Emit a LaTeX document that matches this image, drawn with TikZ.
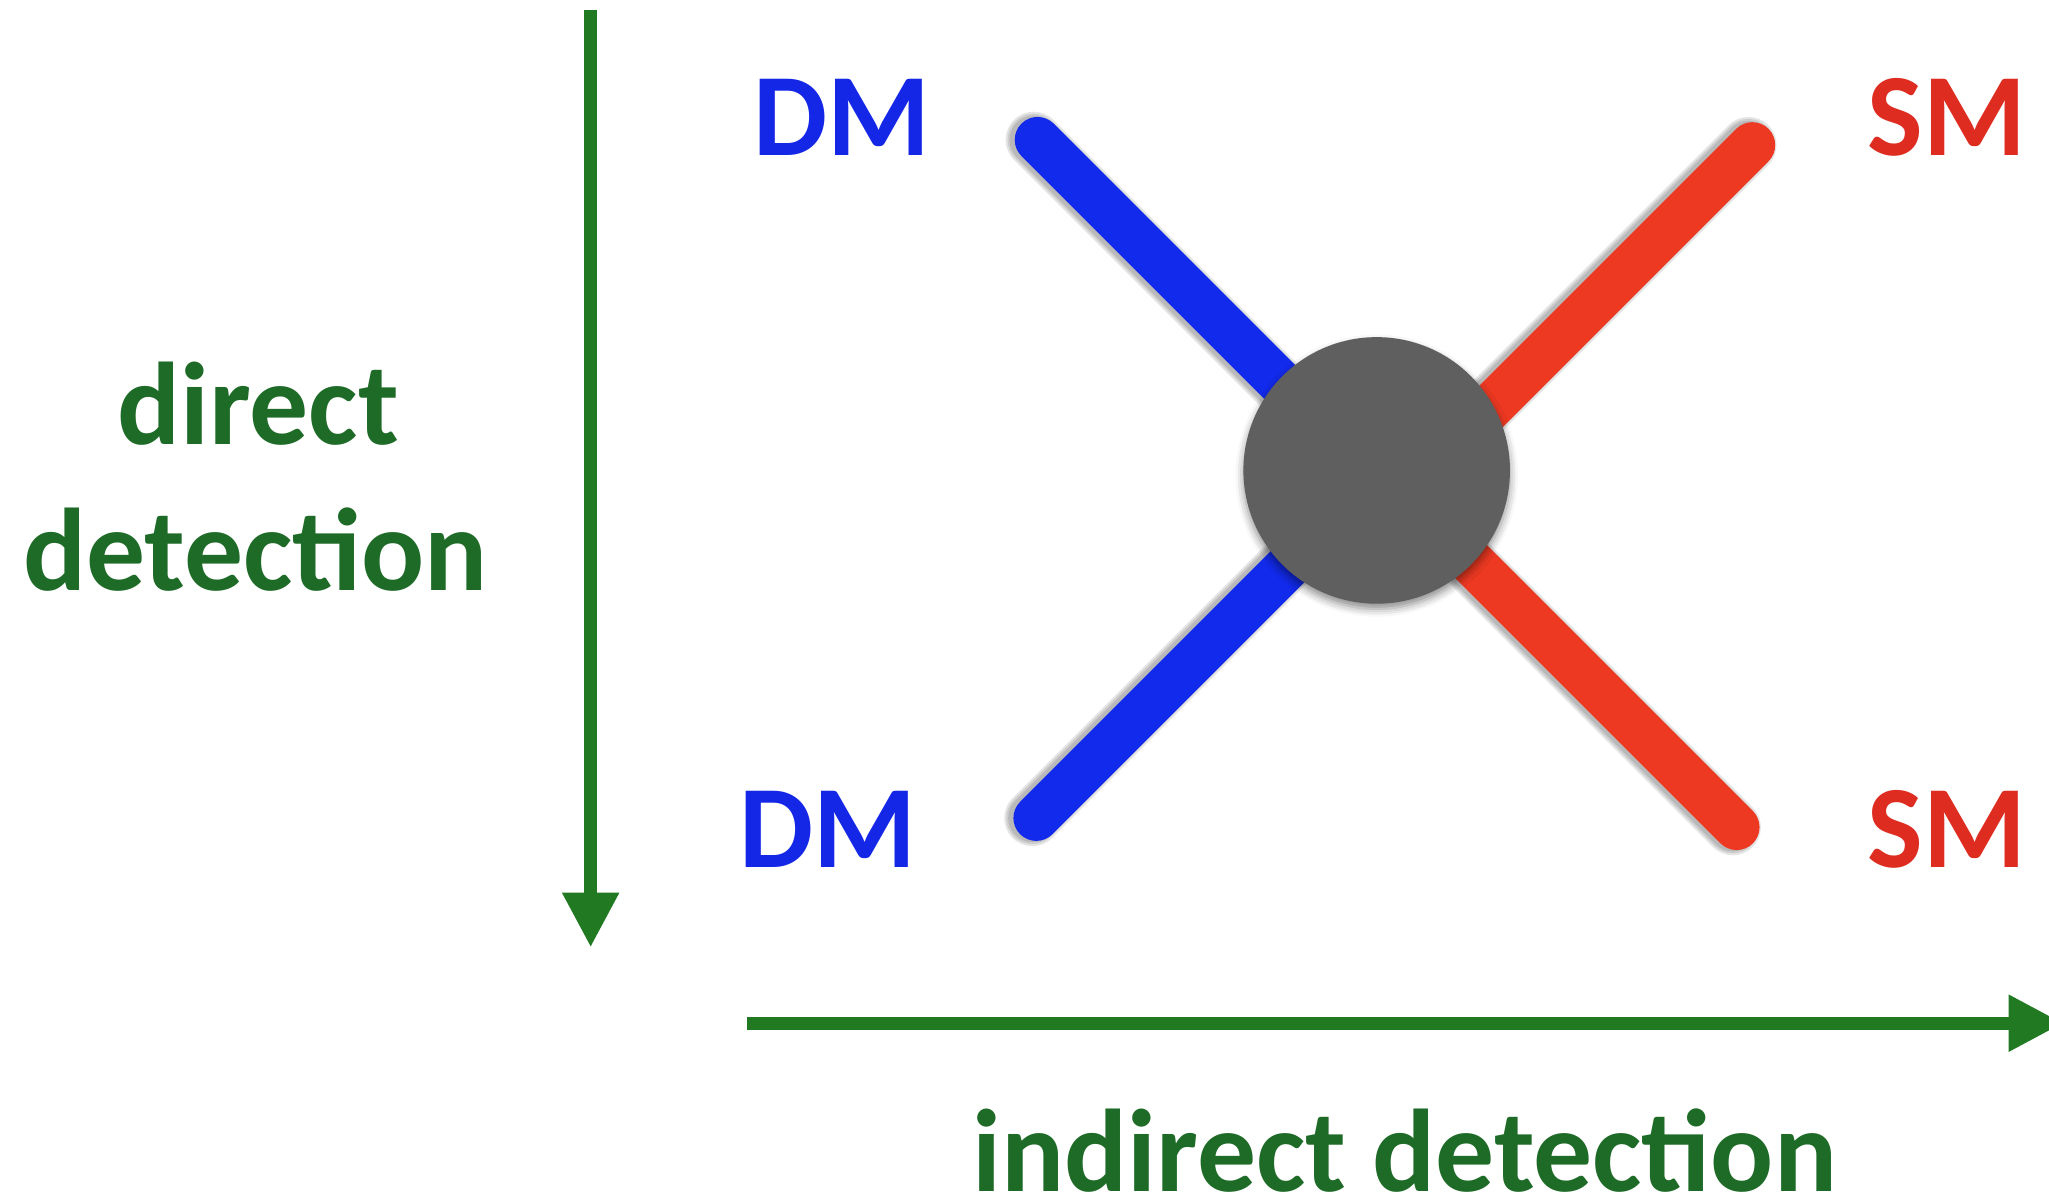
\documentclass[tikz,border=0pt]{standalone}
\usepackage{fontspec}
\setmainfont{Carlito}
\usetikzlibrary{arrows.meta,shadows.blur}

\definecolor{dmblue}{RGB}{18,42,235}
\definecolor{dmtext}{RGB}{20,38,230}
\definecolor{smred}{RGB}{238,57,34}
\definecolor{smtext}{RGB}{222,44,32}
\definecolor{axisgreen}{RGB}{33,122,34}
\definecolor{labelgreen}{RGB}{30,107,40}
\definecolor{blobgray}{RGB}{95,95,95}

\tikzset{
  leg/.style={line width=35pt, line cap=round},
  legshadow/.style={line width=#1, line cap=round, black, opacity=0.10,
                    transform canvas={xshift=-3pt}},
  axis/.style={draw=axisgreen, line width=10pt,
               -{Triangle[width=41pt,length=42pt]}, fill=axisgreen},
  particle/.style={font=\fontsize{90}{100}\selectfont\bfseries, inner sep=0pt, anchor=base},
  channel/.style={font=\fontsize{90}{100}\selectfont\bfseries, text=labelgreen, inner sep=0pt, anchor=base},
  vertex/.style={circle, fill=blobgray, minimum size=204pt, inner sep=0pt,
                 blur shadow={shadow xshift=0pt, shadow yshift=-4pt,
                              shadow blur radius=6pt, shadow opacity=45}},
}

\begin{document}
\begin{tikzpicture}[x=1pt, y=-1pt]
  \useasboundingbox (0,0) rectangle (1568,920);

  % outer ends of the four legs
  \coordinate (tl) at (794,107);
  \coordinate (tr) at (1341,111);
  \coordinate (bl) at (793,626);
  \coordinate (br) at (1329,633);
  % inner ends, hidden under the vertex
  \coordinate (tlin) at (1053,366);
  \coordinate (trin) at (1073,379);
  \coordinate (blin) at (1053,366);
  \coordinate (brin) at (1053,357);

  % soft shadows under the legs
  \foreach \w in {37pt,40pt,43pt} {
    \draw[legshadow=\w] (tl) -- (tlin);
    \draw[legshadow=\w] (tr) -- (trin);
    \draw[legshadow=\w] (bl) -- (blin);
    \draw[legshadow=\w] (br) -- (brin);
  }

  % the four legs
  \draw[leg, dmblue] (tl) -- (tlin);
  \draw[leg, dmblue] (bl) -- (blin);
  \draw[leg, smred] (tr) -- (trin);
  \draw[leg, smred] (br) -- (brin);

  % interaction vertex
  \node[vertex] (blob) at (1053.5,360) {};

  % particle labels
  \node[particle, text=dmtext] (dmin)  at (644,119) {DM};
  \node[particle, text=dmtext] (dmout) at (633.5,664) {DM};
  \node[particle, text=smtext] (smin)  at (1490,119) {SM};
  \node[particle, text=smtext] (smout) at (1490,664) {SM};

  % detection axes
  \coordinate (vtop) at (452,8);
  \coordinate (vend) at (452,725);
  \coordinate (hstart) at (572,783);
  \coordinate (hend) at (1579,783);
  \draw[axis] (vtop) -- (vend);
  \draw[axis] (hstart) -- (hend);

  % axis labels
  \node[channel] (dd1) at (197.5,340) {direct};
  \node[channel] (dd2) at (195.5,452) {detection};
  \node[channel] (ind) at (1075,912) {indirect detection};
\end{tikzpicture}
\end{document}
